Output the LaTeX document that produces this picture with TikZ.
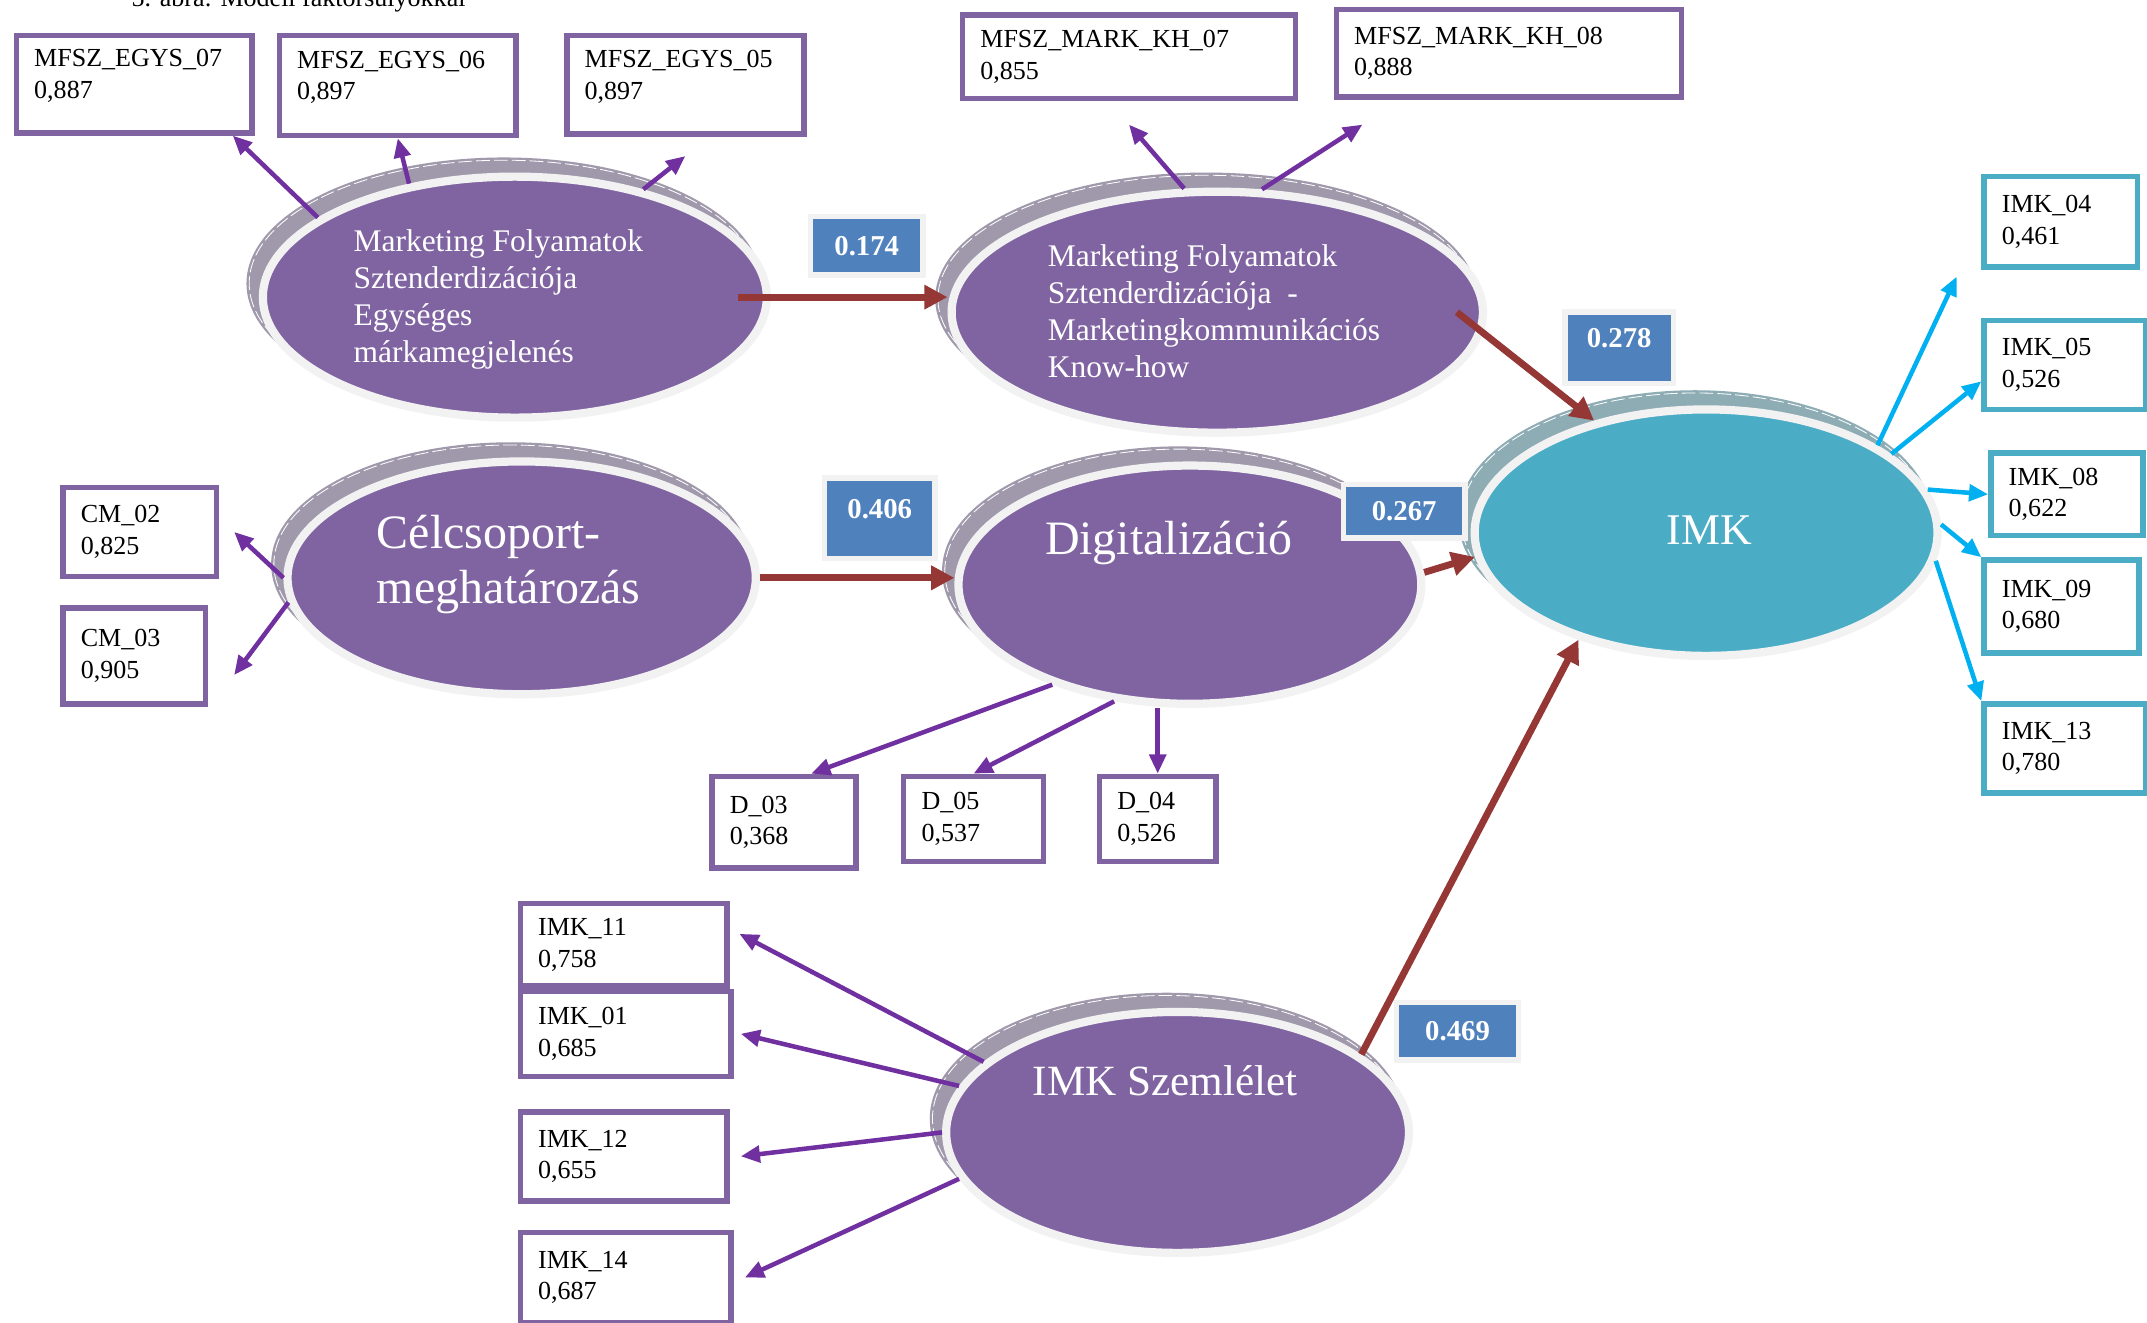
\documentclass[tikz,border=0pt]{standalone}
\usepackage{fontspec}
\setmainfont{Liberation Serif}
\usepackage{tikz}
\usetikzlibrary{arrows.meta, shapes.geometric}

\definecolor{lvpurple}{HTML}{8064A2}
\definecolor{lvshadow}{HTML}{A099AC}
\definecolor{lvring}{HTML}{F2F2F2}
\definecolor{imkcyan}{HTML}{4BACC6}
\definecolor{imkshadow}{HTML}{8EACB4}
\definecolor{arrpurple}{HTML}{7030A0}
\definecolor{arrcyan}{HTML}{00B0F0}
\definecolor{arrred}{HTML}{953735}
\definecolor{coefblue}{HTML}{4F81BD}

\newcommand{\boxfont}{\fontsize{19}{23}\selectfont}
% latent variable: name, x, y, x radius, y radius, fill, shadow
\newcommand{\latent}[7]{%
	\fill[#7] (#2-8,#3-10) ellipse [x radius=#4+4, y radius=#5+4];
	\draw[white, line width=0.6pt, dash pattern=on 10pt off 3pt] (#2-8,#3-10) ellipse [x radius=#4+2, y radius=#5+2];
	\node[latent, fill=#6, minimum width=2*#4pt, minimum height=2*#5pt] (#1) at (#2,#3) {};
}

\begin{document}
\begin{tikzpicture}[x=1pt, y=-1pt,
	latent/.style={ellipse, draw=lvring, line width=6pt, inner sep=0pt},
	ltext/.style={text=white, align=left, inner sep=0pt},
	ind/.style={draw=lvpurple, line width=4pt, fill=white, align=left, anchor=north west, inner xsep=13pt, inner ysep=0pt, font=\boxfont},
	indc/.style={ind, draw=imkcyan},
	coef/.style={fill=coefblue, draw=lvring, line width=4pt, text=white, inner sep=0pt, font=\bfseries\fontsize{21}{24}\selectfont},
	ipath/.style={draw=arrpurple, line width=3.3pt, -{Triangle[length=14pt,width=12pt]}},
	cpath/.style={draw=arrcyan, line width=3.3pt, -{Triangle[length=14pt,width=12pt]}},
	spath/.style={draw=arrred, line width=5pt, -{Triangle[length=17pt,width=17pt]}}]

	\useasboundingbox (0,0) rectangle (1568,966);
	\clip (0,0) rectangle (1568,966);
	\fill[white] (0,0) rectangle (1568,966);

	\node[anchor=base west, font=\boxfont, inner sep=0pt] (cap) at (96,5) {5. ábra: Modell faktorsúlyokkal};

	% latent variables
	\latent{egys}{376}{217}{184}{88}{lvpurple}{lvshadow}
	\latent{markkh}{889}{228}{194}{88}{lvpurple}{lvshadow}
	\latent{cel}{381}{422}{171}{85}{lvpurple}{lvshadow}
	\latent{dig}{869}{427}{169}{87}{lvpurple}{lvshadow}
	\latent{imk}{1246}{389}{169}{90}{imkcyan}{imkshadow}
	\latent{szem}{860}{827}{169}{88}{lvpurple}{lvshadow}

	\node[ltext, anchor=west, font=\fontsize{23}{27}\selectfont] (egystxt) at (258,219)
		{Marketing Folyamatok\\Sztenderdizációja\\Egységes\\márkamegjelenés};
	\node[ltext, anchor=west, font=\fontsize{23}{27}\selectfont] (markkhtxt) at (765,227)
		{Marketing Folyamatok\\Sztenderdizációja\ \ -\\Marketingkommunikációs\\Know-how};
	\node[ltext, anchor=west, font=\fontsize{35}{40}\selectfont] (celtxt) at (275,412)
		{Célcsoport-\\meghatározás};
	\node[ltext, anchor=base west, font=\fontsize{35}{40}\selectfont] (digtxt) at (763,405) {Digitalizáció};
	\node[ltext, anchor=base west, font=\fontsize{32}{38}\selectfont] (imktxt) at (1217,398) {IMK};
	\node[ltext, anchor=base west, font=\fontsize{31.5}{38}\selectfont] (szemtxt) at (754,800) {IMK Szemlélet};

	% indicators
	\node[ind, text width=146pt, minimum height=71pt, text depth=38pt] (egys07) at (10,24) {MFSZ\_EGYS\_07\\0,887};
	\node[ind, text width=147pt, minimum height=73pt, text depth=38pt] (egys06) at (202,24) {MFSZ\_EGYS\_06\\0,897};
	\node[ind, text width=147pt, minimum height=72pt, text depth=38pt] (egys05) at (412,24) {MFSZ\_EGYS\_05\\0,897};
	\node[ind, text width=217pt, minimum height=61pt] (mk07) at (701,9) {MFSZ\_MARK\_KH\_07\\0,855};
	\node[ind, text width=226pt, minimum height=64pt] (mk08) at (974,5) {MFSZ\_MARK\_KH\_08\\0,888};

	\node[indc, text width=86pt, minimum height=66pt] (imk04) at (1447,127) {IMK\_04\\0,461};
	\node[indc, text width=92pt, minimum height=65pt] (imk05) at (1447,232) {IMK\_05\\0,526};
	\node[indc, text width=85pt, minimum height=60pt] (imk08) at (1452,329) {IMK\_08\\0,622};
	\node[indc, text width=87pt, minimum height=68pt] (imk09) at (1447,407) {IMK\_09\\0,680};
	\node[indc, text width=92pt, minimum height=65pt] (imk13) at (1447,512) {IMK\_13\\0,780};

	\node[ind, text width=86pt, minimum height=65pt] (cm02) at (44,354) {CM\_02\\0,825};
	\node[ind, text width=78pt, minimum height=70pt] (cm03) at (44,442) {CM\_03\\0,905};

	\node[ind, text width=79pt, minimum height=67pt] (d03) at (518,565) {D\_03\\0,368};
	\node[ind, text width=76pt, minimum height=62pt] (d05) at (658,565) {D\_05\\0,537};
	\node[ind, text width=59pt, minimum height=62pt] (d04) at (801,565) {D\_04\\0,526};

	\node[ind, text width=125pt, minimum height=60pt] (imk11) at (378,658) {IMK\_11\\0,758};
	\node[ind, text width=128pt, minimum height=62pt] (imk01) at (378,722) {IMK\_01\\0,685};
	\node[ind, text width=125pt, minimum height=65pt] (imk12) at (378,810) {IMK\_12\\0,655};
	\node[ind, text width=128pt, minimum height=66pt] (imk14) at (378,898) {IMK\_14\\0,687};

	% loadings
	\draw[ipath] (egys.158) -- ([xshift=-16pt]egys07.south east);
	\draw[ipath] (egys.133) -- (egys06.south);
	\draw[ipath] (egys.40) -- ([yshift=-14pt]egys05.south);
	\draw[ipath] (markkh.105) -- ([yshift=-17pt]mk07.south);
	\draw[ipath] (markkh.70) -- ([xshift=21pt,yshift=-18pt]mk08.south west);
	\draw[ipath] (cel.west) -- ([xshift=11pt]cm02.east);
	\draw[ipath] (cel.186) -- ([xshift=19pt,yshift=-14pt]cm03.east);
	\draw[ipath] (dig.216) -- ([xshift=20pt]d03.north);
	\draw[ipath] (dig.237) -- (d05.north);
	\draw[ipath] (dig.south -| d04.north) -- (d04.north);
	\draw[cpath] (imk.27) -- ([xshift=-18pt,yshift=-5pt]imk04.south west);
	\draw[cpath] (imk.23) -- ([yshift=-12pt]imk05.west);
	\draw[cpath] (imk.11) -- (imk08.west);
	\draw[cpath] (imk.2) -- (imk09.north west);
	\draw[cpath] (imk.-7) -- (imk13.north west);
	\draw[ipath] (szem.160) -- ([xshift=7pt,yshift=8pt]imk11.east);
	\draw[ipath] (szem.168) -- ([xshift=5pt]imk01.east);
	\draw[ipath] (szem.west) -- ([xshift=8pt]imk12.east);
	\draw[ipath] (szem.192) -- ([xshift=8pt]imk14.east);

	% paths
	\draw[spath] ([xshift=-24pt]egys.east) -- (egys.east -| markkh.west);
	\draw[spath] ([xshift=-22pt]markkh.east) -- (imk.135);
	\draw[spath] (cel.east) -- (cel.east -| dig.west);
	\draw[spath] (dig.3) -- (imk.186);
	\draw[spath] (szem.23) -- (imk.220);

	\node[coef, minimum width=82pt, minimum height=43pt] (c174) at (633,179.5) {0.174};
	\node[coef, minimum width=79pt, minimum height=52pt, text depth=14pt] (c278) at (1182.5,254) {0.278};
	\node[coef, minimum width=81pt, minimum height=59pt, text depth=13pt] (c406) at (642.5,378.5) {0.406};
	\node[coef, minimum width=89pt, minimum height=39pt] (c267) at (1025.5,373.5) {0.267};
	\node[coef, minimum width=89pt, minimum height=42pt] (c469) at (1064.5,753) {0.469};
\end{tikzpicture}
\end{document}
